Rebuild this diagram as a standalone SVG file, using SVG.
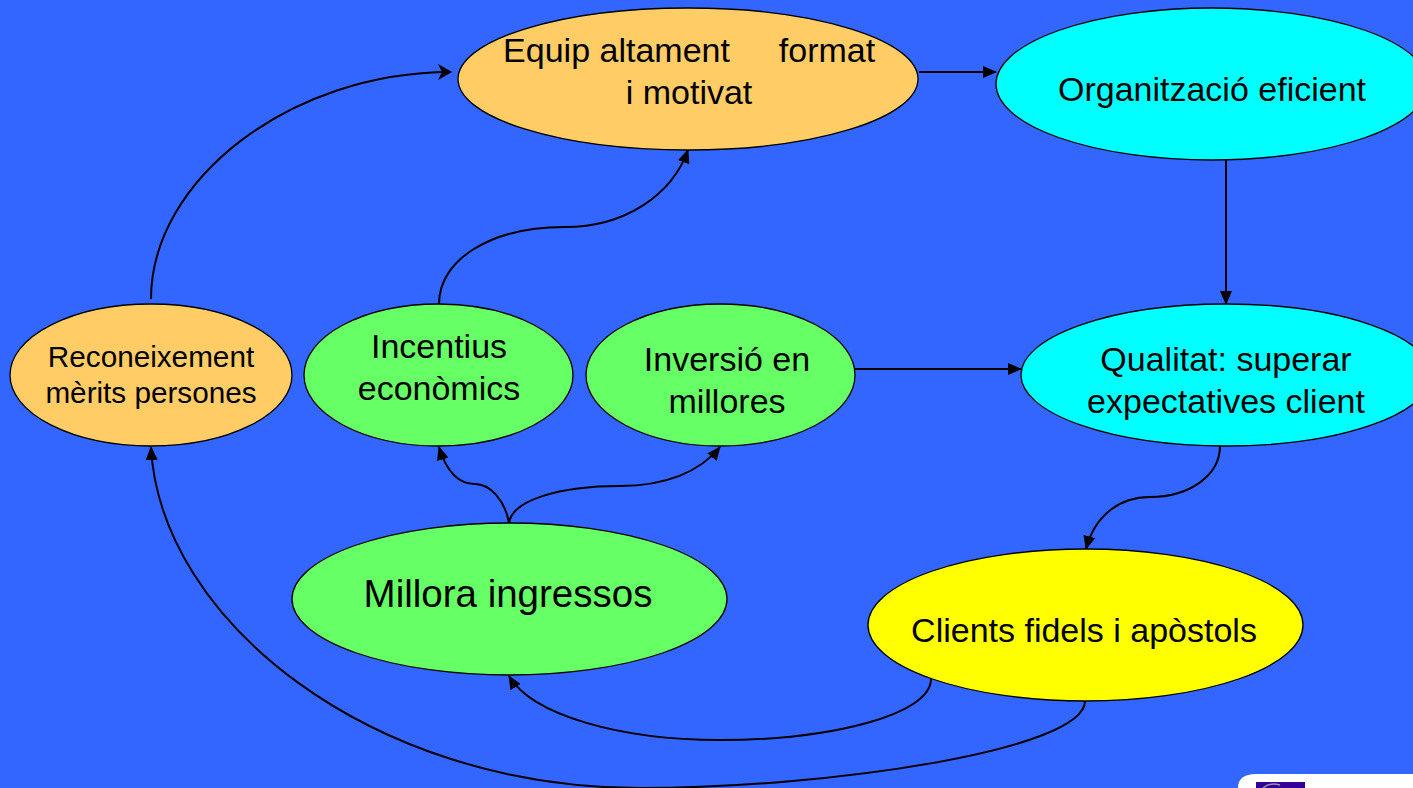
<svg xmlns="http://www.w3.org/2000/svg" width="1413" height="788" viewBox="0 0 1413 788">
<style>
.n{stroke:#000;stroke-width:1.3}
.o{fill:#ffcc66}.c{fill:#00ffff}.g{fill:#66ff66}.y{fill:#ffff00}
text{font-family:"Liberation Sans",Arial,sans-serif;fill:#000;text-anchor:middle;font-size:34px}
.s{font-size:29.7px}.b{font-size:38.5px}
.l{fill:none;stroke:#000;stroke-width:2;marker-end:url(#a)}
</style>
<defs>
<marker id="a" markerUnits="userSpaceOnUse" markerWidth="14" markerHeight="12" refX="13" refY="6" orient="auto"><path d="M0 0L14 6L0 12Z" fill="#000"/></marker>
<marker id="st" markerUnits="userSpaceOnUse" markerWidth="14" markerHeight="16" refX="13" refY="8" orient="auto"><path d="M0 0L14 8L0 16L4 8Z" fill="#000"/></marker>
</defs>
<rect width="1413" height="788" fill="#3366ff"/>
<g id="connectors">
<path class="l" d="M919 72H996"/>
<path class="l" d="M1226 160V304"/>
<path class="l" d="M855 369H1021"/>
<path class="l" style="marker-end:url(#st)" d="M151 299C151 180 290 72 451 72"/>
<path class="l" d="M439 304C439 260 490 227 565 227C625 227 672 195 688 150"/>
<path class="l" d="M509 523C505 500 490 484 475 484C458 484 446 470 439 447"/>
<path class="l" d="M509 523C512 500 560 486 620 486C665 486 700 472 720 447"/>
<path class="l" d="M1220 446C1220 475 1190 497 1150 497C1120 497 1095 515 1086 549"/>
<path class="l" d="M931 679C931 715 830 740 720 740C620 740 532 715 509 676"/>
<path class="l" d="M1085 701C1085 750 830 788 640 788C370 788 160 620 151 447"/>
</g>
<g id="n-equip"><ellipse class="n o" cx="688" cy="79" rx="230" ry="71"/><text x="616.500" y="62">Equip altament</text><text x="827" y="62">format</text><text x="689" y="104">i motivat</text></g>
<g id="n-org"><ellipse class="n c" cx="1212" cy="84" rx="216" ry="76"/><text x="1212" y="101">Organització eficient</text></g>
<g id="n-reco"><ellipse class="n o" cx="151" cy="375" rx="141" ry="71"/><text class="s" x="151" y="367">Reconeixement</text><text class="s" x="151" y="403">mèrits persones</text></g>
<g id="n-incen"><ellipse class="n g" cx="438.500" cy="375" rx="134.500" ry="71"/><text x="439" y="358">Incentius</text><text x="439" y="400">econòmics</text></g>
<g id="n-inv"><ellipse class="n g" cx="720.500" cy="375" rx="134.500" ry="71"/><text x="727" y="371">Inversió en</text><text x="727" y="413">millores</text></g>
<g id="n-qual"><ellipse class="n c" cx="1226" cy="375" rx="205" ry="71"/><text x="1226" y="371">Qualitat: superar</text><text x="1226" y="413">expectatives client</text></g>
<g id="n-mill"><ellipse class="n g" cx="509.500" cy="599" rx="217.500" ry="76"/><text class="b" x="508" y="607">Millora ingressos</text></g>
<g id="n-clients"><ellipse class="n y" cx="1085.500" cy="625" rx="217.500" ry="76"/><text x="1084" y="642">Clients fidels i apòstols</text></g>
<path d="M1238 788Q1238 774 1256 774H1413V788Z" fill="#fff"/>
<rect x="1256" y="782" width="49" height="6" fill="#330099"/>
<path d="M1263 788Q1270 782 1280 785" fill="none" stroke="#999" stroke-width="1.500"/>
</svg>
